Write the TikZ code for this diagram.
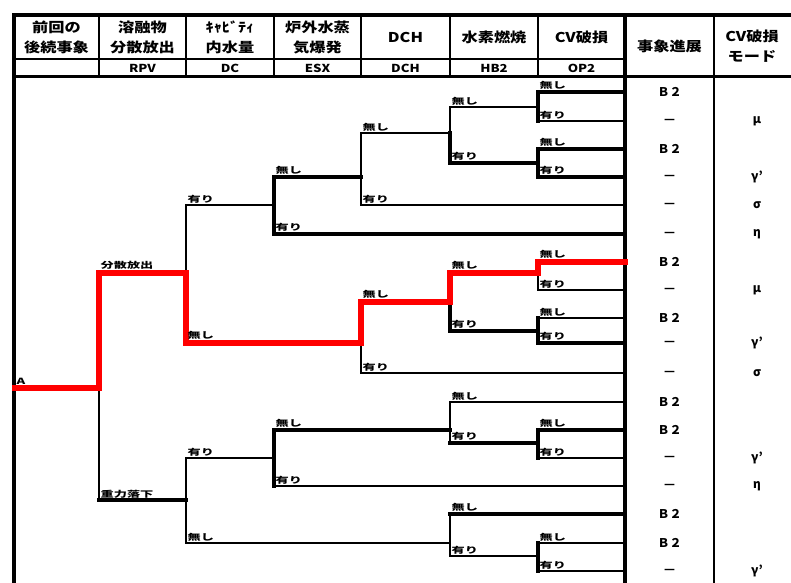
\documentclass[tikz,border=0pt]{standalone}
\usepackage{fontspec}
\setmainfont{Noto Sans CJK JP}
\usetikzlibrary{calc}
\newcommand\hs[1]{\scalebox{1.2}[1]{#1}}
\newcommand\ls[1]{\scalebox{1.55}[1]{#1}}
% #1 vertical style, #2 horizontal style, #3 parent, #4 child, #5 label, #6 label lift
\newcommand\brc[6]{%
  \draw[#1] (#3) -- (#3 |- #4);
  \draw[#2] (#3 |- #4) -- (#4);
  \node[lbl, yshift=#6] (L-#3-#4) at (#3 |- #4) {\ls{#5}};
}
\begin{document}
\begin{tikzpicture}[x=1pt,y=-1pt,line cap=rect,
  thinl/.style={line width=1.4pt},
  thickl/.style={line width=3.4pt},
  redl/.style={line width=6pt,draw=red},
  framel/.style={line width=3.5pt},
  sepl/.style={line width=1.6pt},
  lbl/.style={inner sep=0pt,anchor=south west,xshift=1.5pt,font=\bfseries\fontsize{8.5}{9}\selectfont},
  hdr/.style={inner sep=0pt,align=center,font=\bfseries\fontsize{13.5}{20}\selectfont},
  codel/.style={inner sep=0pt,font=\bfseries\fontsize{11}{11}\selectfont},
  res/.style={inner sep=0pt,font=\bfseries\fontsize{12}{12}\selectfont}]
\useasboundingbox (0,0) rectangle (791,582);

% ---------- frame and header grid ----------
\draw[framel] (14,582) -- (14,15) -- (791,15);
\draw[framel] (14,76.5) -- (791,76.5);
\draw[framel] (625,15) -- (625,582);
\draw[sepl] (714,15) -- (714,582);
\draw[sepl] (14,59) -- (625,59);
\foreach \xx in {99,186,274,361,450,538} \draw[sepl] (\xx,15) -- (\xx,76.5);

% header texts
\node[hdr] (h1) at (56.5,37.5) {\hs{前回の}\\\hs{後続事象}};
\node[hdr] (h2) at (142.5,37.5) {\hs{溶融物}\\\hs{分散放出}};
\node[hdr] (h3) at (230,37.5) {\hs{ｷｬﾋﾞﾃｨ}\\\hs{内水量}};
\node[hdr] (h4) at (317.5,37.5) {\hs{炉外水蒸}\\\hs{気爆発}};
\node[hdr] (h5) at (405.5,37.5) {\hs{DCH}};
\node[hdr] (h6) at (494,37.5) {\hs{水素燃焼}};
\node[hdr] (h7) at (581.5,37.5) {\hs{CV破損}};
\node[hdr] (h8) at (669.5,46) {\hs{事象進展}};
\node[hdr] (h9) at (752,46) {\hs{CV破損}\\\hs{モード}};
\node[codel] (c2) at (142.5,68.5) {\hs{RPV}};
\node[codel] (c3) at (230,68.5) {\hs{DC}};
\node[codel] (c4) at (317.5,68.5) {\hs{ESX}};
\node[codel] (c5) at (405.5,68.5) {\hs{DCH}};
\node[codel] (c6) at (494,68.5) {\hs{HB2}};
\node[codel] (c7) at (581.5,68.5) {\hs{OP2}};

% ---------- tree points ----------
\coordinate (a0) at (15,388);
\coordinate (rpv) at (99,388);
\coordinate (dca) at (186,273);
\coordinate (dcb) at (186,500);
\coordinate (esxa) at (274,205);
\coordinate (dchb) at (361,343);
\coordinate (esxb) at (274,458);
\coordinate (hbd) at (450,543);
\coordinate (dcha) at (361,177);
\coordinate (hba) at (450,133);
\coordinate (hbb) at (450,302);
\coordinate (hbc) at (450,430);
\coordinate (opa) at (538,107);
\coordinate (opb) at (538,163);
\coordinate (opc) at (538,273);
\coordinate (opd) at (538,331);
\coordinate (ope) at (538,443);
\coordinate (opf) at (538,556);
\foreach \n/\yy in {1/92,2/121,3/149,4/177,5/205,6/234,7/262,8/290,9/318,10/343,11/373,12/402,13/430,14/458,15/486,16/514,17/543,18/571}
  \coordinate (e\n) at (625,\yy);

% ---------- black branches ----------
\brc{thinl}{thickl}{rpv}{dcb}{重力落下}{1pt}
\brc{thinl}{thinl}{dca}{esxa}{有り}{1pt}
\brc{thinl}{thinl}{dcb}{esxb}{有り}{1pt}
\brc{thinl}{thinl}{dcb}{hbd}{無し}{1pt}
\brc{thickl}{thickl}{esxa}{dcha}{無し}{2pt}
\brc{thickl}{thickl}{esxa}{e6}{有り}{2pt}
\brc{thickl}{thickl}{esxb}{hbc}{無し}{2pt}
\brc{thickl}{thinl}{esxb}{e15}{有り}{1pt}
\brc{thinl}{thinl}{dcha}{hba}{無し}{1pt}
\brc{thinl}{thinl}{dcha}{e5}{有り}{1pt}
\brc{thinl}{thinl}{dchb}{e11}{有り}{1pt}
\brc{thinl}{thinl}{hba}{opa}{無し}{1pt}
\brc{thickl}{thickl}{hba}{opb}{有り}{2pt}
\brc{thickl}{thickl}{hbb}{opd}{有り}{2pt}
\brc{thinl}{thinl}{hbc}{e12}{無し}{1pt}
\brc{thinl}{thickl}{hbc}{ope}{有り}{2pt}
\brc{thinl}{thickl}{hbd}{e16}{無し}{2pt}
\brc{thinl}{thinl}{hbd}{opf}{有り}{1pt}
\brc{thickl}{thickl}{opa}{e1}{無し}{2pt}
\brc{thickl}{thinl}{opa}{e2}{有り}{1pt}
\brc{thickl}{thickl}{opb}{e3}{無し}{2pt}
\brc{thickl}{thickl}{opb}{e4}{有り}{2pt}
\brc{thinl}{thinl}{opc}{e8}{有り}{1pt}
\brc{thickl}{thinl}{opd}{e9}{無し}{1pt}
\brc{thickl}{thickl}{opd}{e10}{有り}{2pt}
\brc{thickl}{thickl}{ope}{e13}{無し}{2pt}
\brc{thickl}{thinl}{ope}{e14}{有り}{1pt}
\brc{thickl}{thinl}{opf}{e17}{無し}{1pt}
\brc{thickl}{thinl}{opf}{e18}{有り}{1pt}

% ---------- red path ----------
\draw[redl] (a0) -- (rpv);
\node[lbl,yshift=3pt] (LA) at (a0) {\ls{A}};
\brc{redl}{redl}{rpv}{dca}{分散放出}{3.5pt}
\brc{redl}{redl}{dca}{dchb}{無し}{3.5pt}
\brc{redl}{redl}{dchb}{hbb}{無し}{3.5pt}
\brc{redl}{redl}{hbb}{opc}{無し}{3.5pt}
\brc{redl}{redl}{opc}{e7}{無し}{3.5pt}

% ---------- results ----------
\foreach \n/\t in {1/Ｂ２,2/—,3/Ｂ２,4/—,5/—,6/—,7/Ｂ２,8/—,9/Ｂ２,10/—,11/—,12/Ｂ２,13/Ｂ２,14/—,15/—,16/Ｂ２,17/Ｂ２,18/—}
  \node[res] (r\n) at ($(e\n)+(44.5,0)$) {\t};
\foreach \n/\t in {2/μ,4/γ’,5/σ,6/η,8/μ,10/γ’,11/σ,14/γ’,15/η,18/γ’}
  \node[res] (m\n) at ($(e\n)+(132,0)$) {\t};
\end{tikzpicture}
\end{document}
